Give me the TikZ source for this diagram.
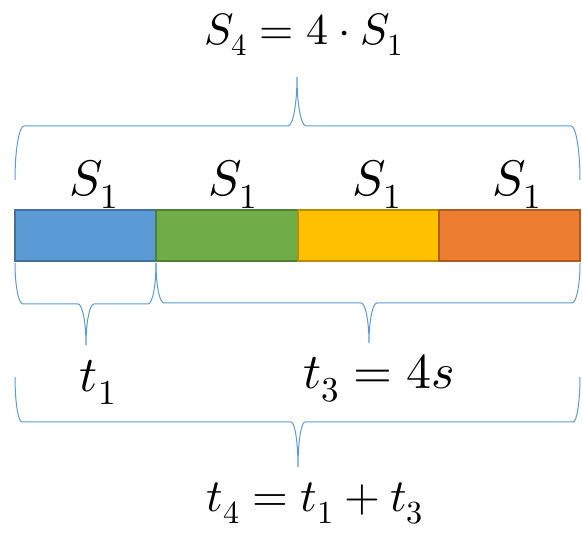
\documentclass[tikz,border=0pt]{standalone}
\usepackage{unicode-math}
\setmathfont{Latin Modern Math}
\usetikzlibrary{calc}
\definecolor{bfill}{HTML}{5B9BD5}\definecolor{bline}{HTML}{41719C}
\definecolor{gfill}{HTML}{70AD47}\definecolor{gline}{HTML}{507E32}
\definecolor{yfill}{HTML}{FFC000}\definecolor{yline}{HTML}{BC8C00}
\definecolor{ofill}{HTML}{ED7D31}\definecolor{oline}{HTML}{AE5A21}
\definecolor{brc}{HTML}{5B9BD5}
% brace: x1, x2, xt, y end, y middle, y tip, r
\newcommand\mybrace[7]{%
  \pgfmathsetmacro\ka{0.5523}%
  \draw[bracestyle]
    (#1,#4) .. controls (#1,{#4+\ka*(#5-#4)}) and ({#1+#7-\ka*#7},#5) .. ({#1+#7},#5)
    -- ({#3-#7},#5) .. controls ({#3-#7+\ka*#7},#5) and (#3,{#6+\ka*(#5-#6)}) .. (#3,#6)
    .. controls (#3,{#6+\ka*(#5-#6)}) and ({#3+#7-\ka*#7},#5) .. ({#3+#7},#5)
    -- ({#2-#7},#5) .. controls ({#2-#7+\ka*#7},#5) and (#2,{#4+\ka*(#5-#4)}) .. (#2,#4);}
\begin{document}
\begin{tikzpicture}[x=1pt,y=-1pt,
  bar/.style={line width=2.4pt},
  bracestyle/.style={draw=brc,line width=1pt},
  lbl/.style={anchor=base,inner sep=0pt}]
\useasboundingbox (0,0) rectangle (582,534);
\draw[bar,fill=bfill,draw=bline] (15,210) rectangle (156,261);
\draw[bar,fill=gfill,draw=gline] (156,210) rectangle (298,261);
\draw[bar,fill=yfill,draw=yline] (298,210) rectangle (439,261);
\draw[bar,fill=ofill,draw=oline] (439,210) rectangle (580,261);
\mybrace{15}{580}{297}{180}{126}{77}{9}
\mybrace{15}{156}{86}{263}{304}{345}{8}
\mybrace{156}{580}{369}{263}{303}{343}{8}
\mybrace{15}{580}{298}{377}{422}{467}{7}
\node[lbl,font=\fontsize{44}{50}\selectfont] (top) at (304,45) {$S_4 = 4\cdot S_1$};
\node[lbl,font=\fontsize{50}{56}\selectfont] (s1) at (94,196) {$S_1$};
\node[lbl,font=\fontsize{50}{56}\selectfont] (s2) at (233,196) {$S_1$};
\node[lbl,font=\fontsize{50}{56}\selectfont] (s3) at (377,196) {$S_1$};
\node[lbl,font=\fontsize{50}{56}\selectfont] (s4) at (517,196) {$S_1$};
\node[lbl,font=\fontsize{50}{56}\selectfont] (t1) at (98,392) {$t_1$};
\node[lbl,font=\fontsize{50}{56}\selectfont] (t3) at (379,389) {$t_3 = 4s$};
\node[lbl,font=\fontsize{46}{52}\selectfont] (t4) at (315,512) {$t_4 = t_1 + t_3$};
\end{tikzpicture}
\end{document}
